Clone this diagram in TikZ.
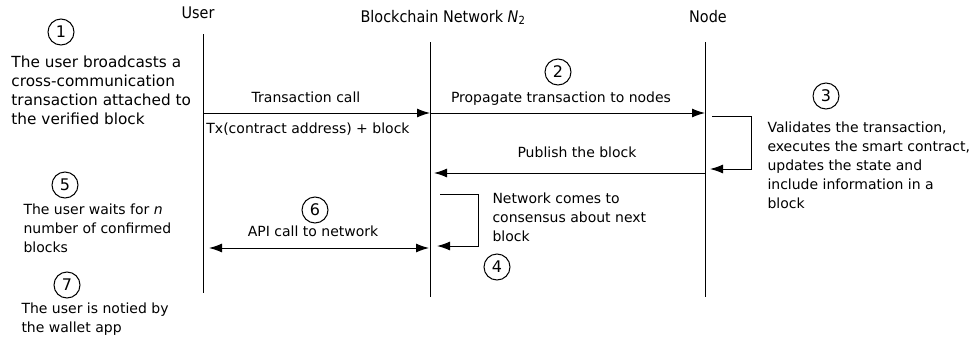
\documentclass[tikz,border=0pt]{standalone}
\usepackage{fontspec}
\setmainfont{DejaVu Sans}
\newfontfamily\headfont{DejaVu Sans Condensed}
\usetikzlibrary{positioning,arrows.meta}

\tikzset{
  head/.style={font=\headfont\fontsize{16}{18}\selectfont, inner sep=0pt, anchor=base},
  num/.style={draw, circle, inner sep=0pt, minimum size=26pt, font=\fontsize{16}{16}\selectfont},
  note/.style={align=left, inner sep=0pt, anchor=base west, font=\fontsize{14}{19}\selectfont},
  msg/.style={inner sep=0pt, anchor=base, font=\fontsize{14}{16}\selectfont},
  arr/.style={-{Latex[length=13pt,width=9pt]}},
}

\begin{document}
\begin{tikzpicture}[x=1pt, y=-1pt, line width=1pt]
  \useasboundingbox (0,0) rectangle (977,343);

  % lifelines
  \node (user) [head] at (198,18) {User};
  \node (net) [head] at (443,22) {Blockchain Network {\itshape N}\textsubscript{2}};
  \node (node) [head] at (708,22) {Node};
  \coordinate (u-top) at (203,34);
  \coordinate (u-bot) at (203,293);
  \coordinate (n-top) at (430,42);
  \coordinate (n-bot) at (430,297);
  \coordinate (d-top) at (705,42);
  \coordinate (d-bot) at (705,297);
  \draw (u-top) -- (u-bot);
  \draw (n-top) -- (n-bot);
  \draw (d-top) -- (d-bot);

  % messages
  \coordinate (u-tx) at (203,113);
  \coordinate (n-tx) at (430,113);
  \coordinate (d-tx) at (705,113);
  \draw [arr] (u-tx) -- (n-tx);
  \draw [arr] (n-tx) -- (d-tx);
  \node (txcall) [msg] at (306,102) {Transaction call};
  \node (txarg) [msg] at (308,133) {Tx(contract address) + block};
  \node (prop) [msg] at (561,102) {Propagate transaction to nodes};

  \coordinate (d-out) at (712,116);
  \coordinate (d-in) at (710,169);
  \draw [arr] (d-out) -- (751,116) |- (d-in);

  \coordinate (d-pub) at (705,173);
  \coordinate (n-pub) at (434,173);
  \draw [arr] (d-pub) -- (n-pub);
  \node (pub) [msg] at (577,157) {Publish the block};

  \coordinate (n-out) at (440,194);
  \coordinate (n-in) at (437,246);
  \draw [arr] (n-out) -- (478,194) |- (n-in);

  \coordinate (u-api) at (209,248);
  \coordinate (n-api) at (429,248);
  \draw [{Latex[length=13pt,width=9pt]}-{Latex[length=13pt,width=9pt]}] (u-api) -- (n-api);
  \node (api) [msg] at (313,236) {API call to network};

  % steps
  \node (s1) [num] at (61,32) {1};
  \node (s2) [num] at (558,72) {2};
  \node (s3) [num] at (826,96) {3};
  \node (s4) [num] at (497,267) {4};
  \node (s5) [num] at (65,185) {5};
  \node (s6) [num] at (315,210) {6};
  \node (s7) [num] at (67,285) {7};

  \node (t1) [note, font=\fontsize{15.3}{19}\selectfont] at (11,124) {The user broadcasts a\\cross-communication\\transaction attached to\\the verified block};
  \node (t3) [note] at (767,208) {Validates the transaction,\\executes the smart contract,\\updates the state and\\include information in a\\block};
  \node (t4) [note] at (492,241) {Network comes to\\consensus about next\\block};
  \node (t5) [note] at (23,252) {The user waits for \textit{n}\\number of confirmed\\blocks};
  \node (t7) [note] at (21,332) {The user is notied by\\the wallet app};
\end{tikzpicture}
\end{document}
